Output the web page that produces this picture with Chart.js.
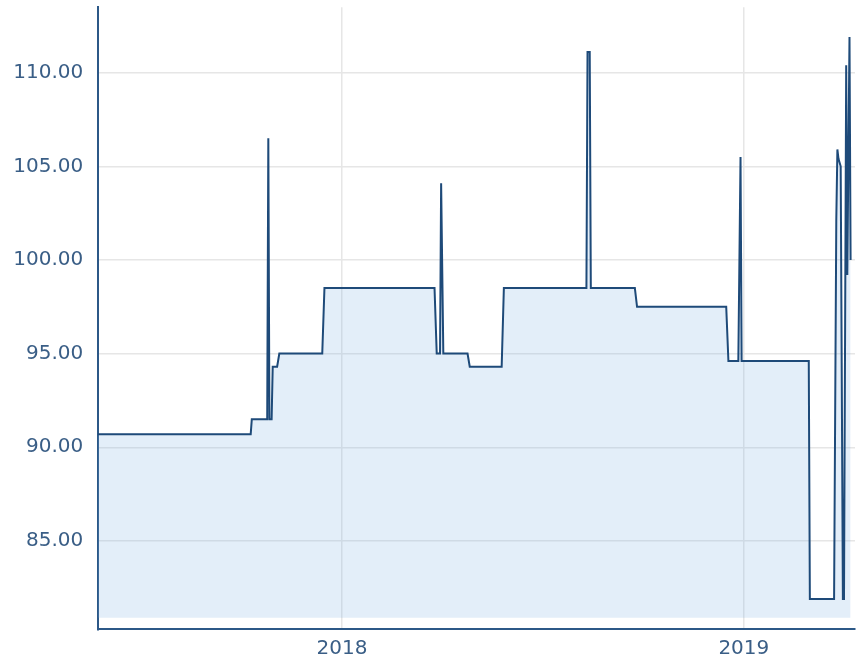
<!DOCTYPE html>
<html>
<head>
<meta charset="utf-8">
<script src="https://cdn.jsdelivr.net/npm/chart.js@4/dist/chart.umd.min.js"></script>
<style>
html,body{margin:0;padding:0;background:#fff;}
#c{display:block;}
</style>
</head>
<body>
<canvas id="c" width="856" height="661"></canvas>
<script>
// ---- data ----
const dates = [
  "2017-05-24","2017-10-10","2017-10-11","2017-10-25","2017-10-26","2017-10-27",
  "2017-10-29","2017-10-30","2017-11-03","2017-11-05","2017-12-14","2017-12-16",
  "2018-03-26","2018-03-28","2018-03-31","2018-04-01","2018-04-03","2018-04-25",
  "2018-04-27","2018-05-26","2018-05-28","2018-08-11","2018-08-12","2018-08-14",
  "2018-08-15","2018-09-24","2018-09-26","2018-12-16","2018-12-18","2018-12-27",
  "2018-12-29","2018-12-30","2019-03-01","2019-03-02","2019-03-24","2019-03-26",
  "2019-03-27","2019-03-28","2019-03-30","2019-04-01","2019-04-02","2019-04-04",
  "2019-04-05","2019-04-07","2019-04-08"
];
const values = [
  90.7, 90.7, 91.5, 91.5, 106.5, 91.5,
  91.5, 94.3, 94.3, 95.0, 95.0, 98.5,
  98.5, 95.0, 95.0, 104.1, 95.0, 95.0,
  94.3, 94.3, 98.5, 98.5, 111.1, 111.1,
  98.5, 98.5, 97.5, 97.5, 94.6, 94.6,
  105.5, 94.6, 94.6, 81.9, 81.9, 102.1,
  105.9, 105.4, 105.0, 81.9, 81.9, 110.4,
  99.2, 111.9, 100.0
];
const xRange = ["2017-05-24", "2019-04-12"];
const xTickDates = ["2018-01-01", "2019-01-01"];
const xTickLabels = ["2018", "2019"];
const yTicks = [85, 90, 95, 100, 105, 110];
const yRange = [80.28, 113.49];
const fillBase = 80.9;

// ---- helpers ----
function dayNum(s){ const p = s.split('-').map(Number); return Date.UTC(p[0], p[1]-1, p[2]) / 86400000; }
const points = dates.map((d, i) => ({x: dayNum(d), y: values[i]}));
const xTickVals = xTickDates.map(dayNum);

const labelColor = '#3a5e86';
const axisColor = '#2c5887';
const gridColor = '#e6e6e6';
const font = {family: '"DejaVu Sans", Verdana, sans-serif', size: 20};

function noPad(s){ s.paddingTop = 0; s.paddingBottom = 0; s.paddingLeft = 0; s.paddingRight = 0; }

new Chart(document.getElementById('c'), {
  type: 'line',
  data: {
    datasets: [{
      data: points,
      borderColor: '#1e4a79',
      borderWidth: 2,
      backgroundColor: 'rgba(116,170,225,0.2)',
      fill: {value: fillBase},
      pointRadius: 0,
      pointHoverRadius: 0,
      tension: 0
    }]
  },
  options: {
    responsive: false,
    animation: false,
    events: [],
    layout: {padding: {top: 7.3, right: 1, bottom: 0, left: 0}},
    plugins: {legend: {display: false}, tooltip: {enabled: false}},
    scales: {
      x: {
        type: 'linear',
        min: dayNum(xRange[0]),
        max: dayNum(xRange[1]),
        afterBuildTicks: s => { s.ticks = xTickVals.map(v => ({value: v})); },
        afterFit: s => { s.height = 31.7; noPad(s); },
        ticks: {
          color: labelColor, font: font, padding: 7.5, maxRotation: 0, autoSkip: false,
          callback: v => { const i = xTickVals.indexOf(v); return i >= 0 ? xTickLabels[i] : ''; }
        },
        grid: {color: gridColor, lineWidth: 1.5, drawTicks: false},
        border: {display: true, color: axisColor, width: 2}
      },
      y: {
        type: 'linear',
        min: yRange[0],
        max: yRange[1],
        afterBuildTicks: s => { s.ticks = yTicks.map(v => ({value: v})); },
        afterFit: s => { s.width = 97.7; noPad(s); },
        ticks: {
          color: labelColor, font: font, padding: 14.5,
          callback: v => Number(v).toFixed(2)
        },
        grid: {color: gridColor, lineWidth: 1.5, drawTicks: false},
        border: {display: true, color: axisColor, width: 2}
      }
    }
  }
});
</script>
</body>
</html>
